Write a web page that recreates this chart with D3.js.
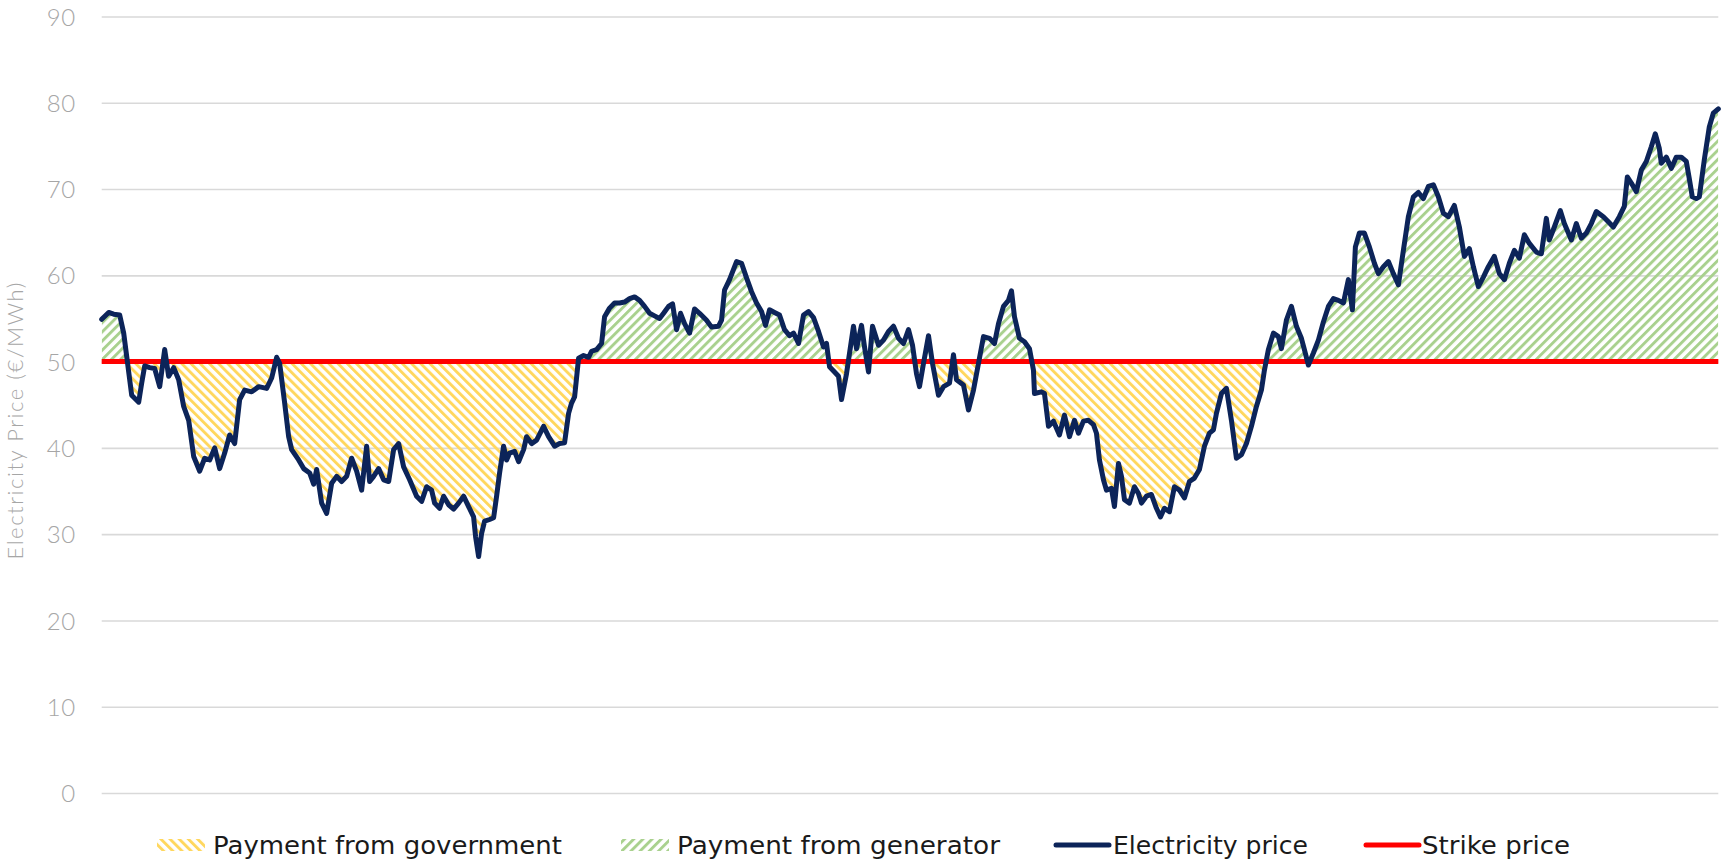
<!DOCTYPE html>
<html>
<head>
<meta charset="utf-8">
<script src="https://cdn.jsdelivr.net/npm/d3@7"></script>
<style>
  html, body { margin: 0; padding: 0; background: #fff; }
  svg { display: block; }
</style>
</head>
<body>
<svg id="chart" width="1721" height="865"></svg>
<script>
// ---- Data ----
const periods = [0,7,12,18,22,25,28,30,37,40,43,48,53,58,63,67,72,77,82,87,92,98,103,108,113,118,123,128,133,138,143,150,157,165,170,175,178,183,187,190,197,202,208,212,215,220,225,230,235,240,245,250,255,260,265,268,272,277,282,287,292,297,302,308,315,320,325,330,333,338,342,347,352,357,362,367,372,374,377,380,383,388,392,395,398,402,405,408,413,417,422,425,430,435,442,447,453,458,463,467,470,473,477,482,487,490,495,500,503,508,513,518,523,528,533,538,543,548,553,558,562,567,571,575,579,583,588,593,598,605,610,617,620,623,628,635,640,645,650,655,660,664,668,673,678,683,688,692,697,702,707,712,717,722,725,728,733,737,740,745,752,755,760,763,767,771,777,782,787,792,797,802,807,811,815,818,822,827,831,837,842,848,852,855,862,867,872,877,882,888,893,897,902,907,910,913,918,923,928,932,933,940,943,947,952,958,963,968,973,977,982,987,992,995,998,1002,1005,1010,1013,1017,1020,1023,1028,1033,1037,1040,1045,1050,1055,1059,1063,1068,1073,1078,1083,1088,1093,1098,1103,1108,1112,1115,1120,1125,1130,1135,1140,1145,1150,1155,1160,1163,1167,1172,1177,1180,1185,1190,1195,1200,1203,1207,1212,1217,1222,1227,1232,1237,1242,1247,1251,1254,1258,1263,1268,1273,1277,1282,1287,1292,1297,1302,1307,1312,1317,1322,1327,1332,1337,1342,1347,1353,1358,1363,1368,1372,1377,1382,1387,1393,1398,1403,1408,1413,1418,1423,1428,1435,1440,1445,1448,1453,1459,1463,1470,1475,1480,1485,1490,1495,1502,1507,1512,1518,1523,1526,1530,1535,1540,1545,1550,1554,1558,1560,1565,1570,1575,1580,1585,1588,1591,1595,1598,1603,1608,1612,1617];
const prices = [54.9,55.7,55.5,55.4,53.3,50.6,47.9,46.1,45.3,47.5,49.5,49.3,49.2,47.1,51.4,48.3,49.3,47.9,44.8,43.2,39.0,37.3,38.8,38.6,40.0,37.6,39.4,41.5,40.5,45.6,46.7,46.5,47.1,46.9,48.1,50.5,49.8,45.2,41.3,39.8,38.6,37.6,37.1,35.8,37.5,33.6,32.4,35.9,36.7,36.1,36.7,38.8,37.3,35.1,40.2,36.1,36.7,37.6,36.3,36.1,39.8,40.5,37.8,36.3,34.4,33.8,35.5,35.1,33.6,33.0,34.4,33.4,32.9,33.6,34.4,33.2,32.0,29.7,27.4,30.1,31.5,31.7,31.9,34.4,37.1,40.2,38.6,39.4,39.6,38.4,39.8,41.3,40.5,40.9,42.5,41.3,40.2,40.5,40.6,44.0,45.2,45.9,50.4,50.7,50.5,51.2,51.4,52.1,55.2,56.2,56.8,56.8,56.9,57.3,57.5,57.1,56.4,55.6,55.3,55.0,55.6,56.4,56.7,53.7,55.6,54.4,53.3,56.1,55.6,54.8,54.0,54.1,54.8,58.3,59.5,61.6,61.4,59.7,58.1,56.8,55.8,54.2,56.0,55.7,55.4,53.7,53.0,53.3,52.1,55.4,55.8,55.1,53.5,51.7,52.1,49.4,48.8,48.3,45.6,48.6,54.1,51.5,54.2,51.7,48.8,54.1,51.9,52.5,53.5,54.1,52.7,52.1,53.7,51.9,48.6,47.1,49.8,53.0,49.8,46.1,47.1,47.5,50.8,47.9,47.3,44.4,46.7,49.8,52.9,52.7,52.1,54.4,56.4,57.1,58.2,55.2,52.7,52.3,51.5,49.0,46.3,46.5,46.3,42.5,43.1,41.5,43.8,41.3,43.2,41.7,43.1,43.2,42.7,41.7,38.6,36.3,35.1,35.3,33.2,38.2,36.7,34.0,33.6,35.5,34.7,33.6,34.4,34.6,33.0,32.0,33.0,32.6,35.5,35.1,34.2,36.1,36.5,37.5,40.2,41.7,42.1,44.0,46.3,46.9,43.2,38.8,39.2,40.5,42.5,44.8,46.7,49.0,51.4,53.3,52.9,51.5,54.8,56.4,54.1,52.7,51.4,49.6,51.0,52.5,54.6,56.4,57.3,57.1,56.8,59.5,56.0,63.3,64.9,64.9,63.3,61.4,60.2,61.0,61.6,60.2,58.9,62.9,66.8,69.1,69.6,68.9,70.3,70.5,69.1,67.2,66.8,68.1,65.6,62.2,63.1,61.0,58.7,59.8,61.0,62.2,60.2,59.5,61.4,62.9,62.0,64.7,63.7,62.7,62.5,66.6,64.1,65.6,67.5,66.0,64.1,66.0,64.3,64.9,66.0,67.4,66.8,66.2,65.6,66.8,68.0,71.4,70.7,69.7,72.2,73.2,74.9,76.4,74.7,73.0,73.7,72.4,73.7,73.7,73.2,71.2,69.1,68.9,69.1,73.4,77.2,78.8,79.3];
const strikePrice = 50;
const yTicks = [0, 10, 20, 30, 40, 50, 60, 70, 80, 90];
const yTitle = "Electricity Price (€/MWh)";
const legendLabels = ["Payment from government", "Payment from generator", "Electricity price", "Strike price"];

(function () {
// ---- Styles ----
const C = {
  gov: "#FFD75E",
  gen: "#A9D18E",
  price: "#0C2459",
  strike: "#FF0000",
  grid: "#D9D9D9",
  tick: "#A6A6A6",
  legendText: "#1a1a1a"
};

const svg = d3.select("#chart");
const pL = 101.7, pR = 1718.3, pT = 16.5, pB = 793;

const x = d3.scaleLinear().domain([0, d3.max(periods)]).range([pL, pR]);
const y = d3.scaleLinear().domain([0, 90]).range([pB, pT]);

const data = periods.map((p, i) => ({ p, v: prices[i] }));

// patterns
const defs = svg.append("defs");
function hatch(id, color, angle) {
  const pat = defs.append("pattern")
    .attr("id", id)
    .attr("patternUnits", "userSpaceOnUse")
    .attr("width", 6.5).attr("height", 6.5)
    .attr("patternTransform", `rotate(${angle})`);
  pat.append("rect").attr("x", 0).attr("y", 0).attr("width", 2.9).attr("height", 6.5).attr("fill", color);
}
hatch("hatchGov", C.gov, -45);
hatch("hatchGen", C.gen, 45);

defs.append("clipPath").attr("id", "clipAbove")
  .append("rect").attr("x", pL).attr("y", 0).attr("width", pR - pL).attr("height", y(strikePrice));
defs.append("clipPath").attr("id", "clipBelow")
  .append("rect").attr("x", pL).attr("y", y(strikePrice)).attr("width", pR - pL).attr("height", 865 - y(strikePrice));

// gridlines + tick labels
const yAxis = d3.axisLeft(y).tickValues(yTicks).tickSize(-(pR - pL)).tickPadding(26).tickFormat(d3.format("d"));
const gAxis = svg.append("g").attr("transform", `translate(${pL},0)`).call(yAxis);
gAxis.select(".domain").remove();
gAxis.selectAll(".tick line").attr("stroke", C.grid).attr("stroke-width", 1.6);
gAxis.selectAll(".tick text")
  .attr("fill", C.tick)
  .attr("font-family", "Lato, 'Open Sans', sans-serif")
  .attr("font-weight", 300)
  .attr("font-size", 24)
  .attr("dy", "0.36em")
  .attr("letter-spacing", 0.5);

// y title
svg.append("text")
  .attr("transform", `translate(23,421) rotate(-90)`)
  .attr("text-anchor", "middle")
  .attr("fill", C.tick)
  .attr("font-family", "Lato, 'Open Sans', sans-serif")
  .attr("font-weight", 300)
  .attr("font-size", 22)
  .attr("textLength", 277)
  .attr("lengthAdjust", "spacing")
  .text(yTitle);

// areas
const area = d3.area().x(d => x(d.p)).y0(y(strikePrice)).y1(d => y(d.v));
svg.append("path").datum(data).attr("d", area).attr("fill", "url(#hatchGen)").attr("clip-path", "url(#clipAbove)");
svg.append("path").datum(data).attr("d", area).attr("fill", "url(#hatchGov)").attr("clip-path", "url(#clipBelow)");

// strike line
svg.append("line")
  .attr("x1", x(0)).attr("x2", x(d3.max(periods)))
  .attr("y1", y(strikePrice)).attr("y2", y(strikePrice))
  .attr("stroke", C.strike).attr("stroke-width", 5);

// price line
const line = d3.line().x(d => x(d.p)).y(d => y(d.v));
svg.append("path").datum(data).attr("d", line)
  .attr("fill", "none").attr("stroke", C.price).attr("stroke-width", 5)
  .attr("stroke-linejoin", "round").attr("stroke-linecap", "round");

// legend
const legendY = 845;
const legendItems = [
  { label: legendLabels[0], type: "hatch", fill: "url(#hatchGov)", sx: 157, tx: 213, tw: 349 },
  { label: legendLabels[1], type: "hatch", fill: "url(#hatchGen)", sx: 621, tx: 677, tw: 323 },
  { label: legendLabels[2], type: "line", stroke: C.price, sx: 1056, tx: 1113, tw: 195 },
  { label: legendLabels[3], type: "line", stroke: C.strike, sx: 1366, tx: 1422, tw: 148 }
];
const lg = svg.append("g");
legendItems.forEach(it => {
  if (it.type === "hatch") {
    lg.append("rect").attr("x", it.sx).attr("y", legendY - 6).attr("width", 48).attr("height", 12).attr("fill", it.fill);
  } else {
    lg.append("line").attr("x1", it.sx).attr("x2", it.sx + 53).attr("y1", legendY).attr("y2", legendY)
      .attr("stroke", it.stroke).attr("stroke-width", 5).attr("stroke-linecap", "round");
  }
  lg.append("text")
    .attr("x", it.tx).attr("y", legendY + 8.5)
    .attr("fill", C.legendText)
    .attr("font-family", "'DejaVu Sans', sans-serif")
    .attr("font-size", 24)
    .attr("textLength", it.tw)
    .attr("lengthAdjust", "spacingAndGlyphs")
    .text(it.label);
});
})();
</script>
</body>
</html>
